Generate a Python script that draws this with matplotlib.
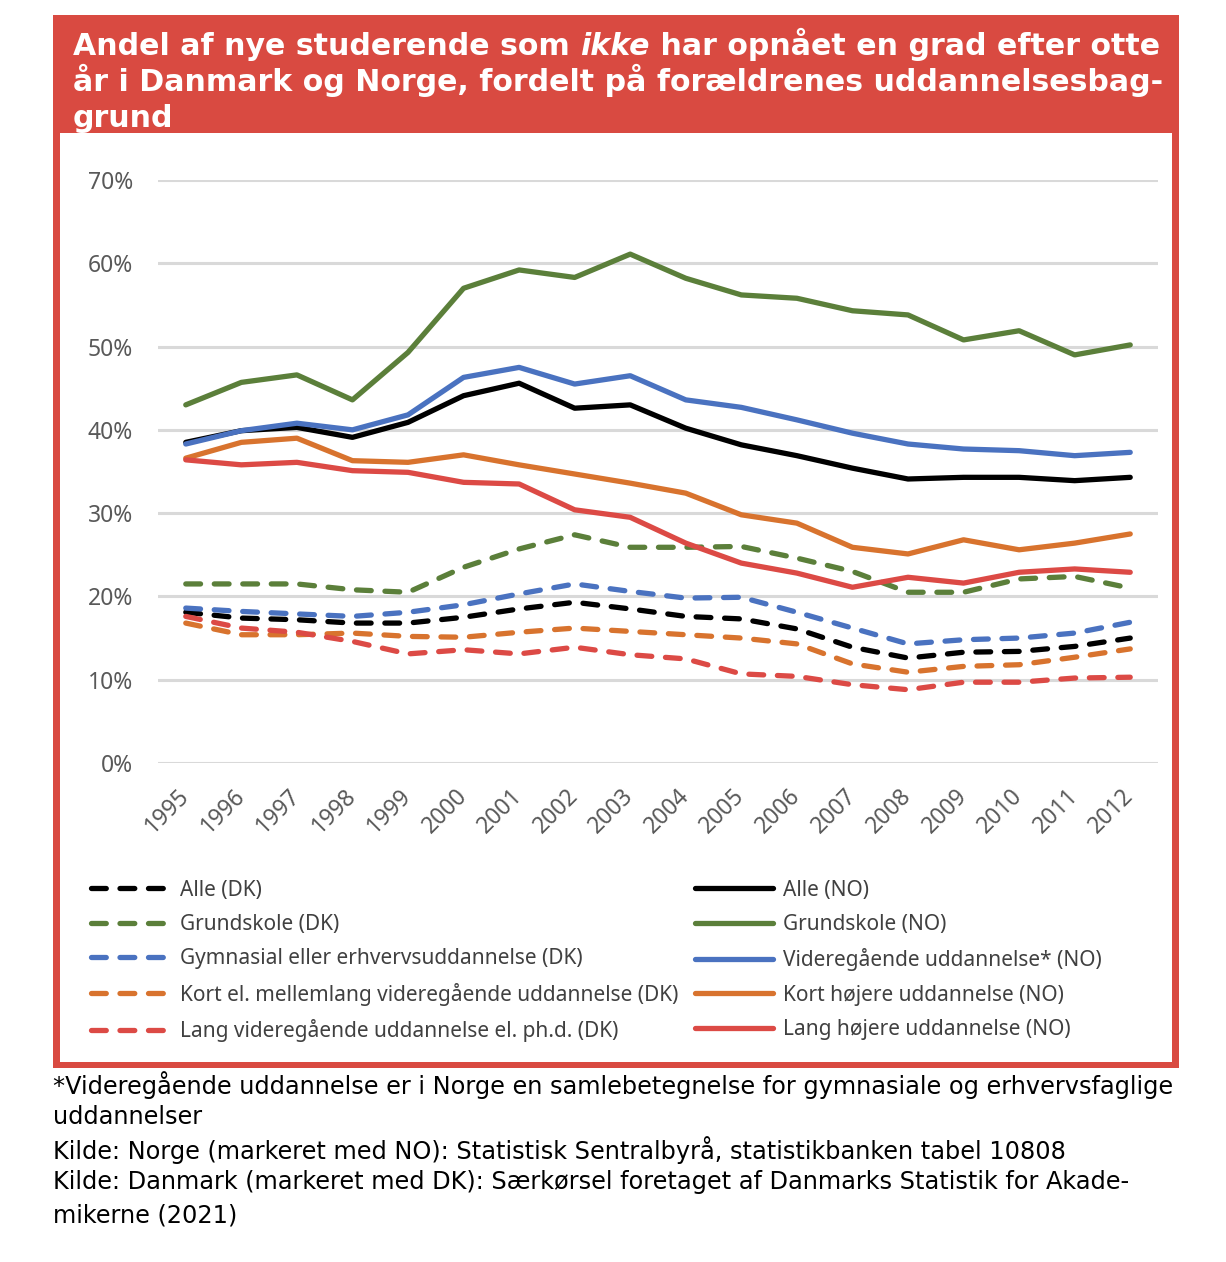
import matplotlib
matplotlib.use("Agg")
import matplotlib.pyplot as plt
from matplotlib.patches import Rectangle

years = [str(y) for y in range(1995, 2013)]

# Norway (solid)
alle_no = [38.5, 39.9, 40.3, 39.1, 40.9, 44.1, 45.6, 42.6, 43.0, 40.2, 38.2, 36.9, 35.4, 34.1, 34.3, 34.3, 33.9, 34.3]
grund_no = [43.0, 45.7, 46.6, 43.6, 49.3, 57.0, 59.2, 58.3, 61.1, 58.2, 56.2, 55.8, 54.3, 53.8, 50.8, 51.9, 49.0, 50.2]
vid_no = [38.3, 39.9, 40.8, 40.0, 41.8, 46.3, 47.5, 45.5, 46.5, 43.6, 42.7, 41.2, 39.6, 38.3, 37.7, 37.5, 36.9, 37.3]
kort_no = [36.6, 38.5, 39.0, 36.3, 36.1, 37.0, 35.8, 34.7, 33.6, 32.4, 29.8, 28.8, 25.9, 25.1, 26.8, 25.6, 26.4, 27.5]
lang_no = [36.4, 35.8, 36.1, 35.1, 34.9, 33.7, 33.5, 30.4, 29.5, 26.4, 24.0, 22.8, 21.1, 22.3, 21.6, 22.9, 23.3, 22.9]

# Denmark (dashed)
alle_dk = [18.1, 17.4, 17.2, 16.8, 16.8, 17.5, 18.5, 19.3, 18.5, 17.6, 17.3, 16.1, 13.9, 12.6, 13.3, 13.4, 14.0, 15.0]
grund_dk = [21.5, 21.5, 21.5, 20.8, 20.5, 23.5, 25.7, 27.4, 25.9, 25.9, 26.0, 24.6, 23.0, 20.5, 20.5, 22.1, 22.4, 21.0]
gym_dk = [18.6, 18.2, 17.9, 17.6, 18.1, 19.0, 20.3, 21.5, 20.6, 19.8, 19.9, 18.1, 16.2, 14.3, 14.8, 15.0, 15.6, 16.9]
kort_dk = [16.8, 15.4, 15.4, 15.6, 15.2, 15.1, 15.7, 16.2, 15.8, 15.4, 15.0, 14.3, 11.9, 10.9, 11.6, 11.8, 12.7, 13.7]
lang_dk = [17.6, 16.2, 15.7, 14.6, 13.1, 13.6, 13.1, 13.9, 13.0, 12.5, 10.7, 10.4, 9.4, 8.8, 9.7, 9.7, 10.2, 10.3]

labels_dk = ["Alle (DK)", "Grundskole (DK)", "Gymnasial eller erhvervsuddannelse (DK)",
             "Kort el. mellemlang videregående uddannelse (DK)",
             "Lang videregående uddannelse el. ph.d. (DK)"]
labels_no = ["Alle (NO)", "Grundskole (NO)", "Videregående uddannelse* (NO)",
             "Kort højere uddannelse (NO)", "Lang højere uddannelse (NO)"]
yticks = [0, 10, 20, 30, 40, 50, 60, 70]

title_parts = [("Andel af nye studerende som ", "normal"), ("ikke", "italic"),
               (" har opnået en grad efter otte", "normal")]
title_lines = ["år i Danmark og Norge, fordelt på forældrenes uddannelsesbag-", "grund"]
footnote = ["*Videregående uddannelse er i Norge en samlebetegnelse for gymnasiale og erhvervsfaglige",
            "uddannelser",
            "Kilde: Norge (markeret med NO): Statistisk Sentralbyrå, statistikbanken tabel 10808",
            "Kilde: Danmark (markeret med DK): Særkørsel foretaget af Danmarks Statistik for Akade-",
            "mikerne (2021)"]

colors = ["#000000", "#5B7F3A", "#4A72C0", "#D8732E", "#DC4A45"]
frame_col = "#D94A41"

W, H = 1226, 1262
fig = plt.figure(figsize=(W / 100, H / 100), dpi=100)

def fx(px):
    return px / W

def fy(py):
    return 1 - py / H

# frame
fig.patches.append(Rectangle((fx(53), fy(1068)), fx(1179 - 53), (1068 - 15) / H,
                             transform=fig.transFigure, facecolor=frame_col, edgecolor="none", zorder=-2))
fig.patches.append(Rectangle((fx(60), fy(1062)), fx(1172 - 60), (1062 - 133) / H,
                             transform=fig.transFigure, facecolor="white", edgecolor="none", zorder=-1))

ax = fig.add_axes([fx(158), fy(763), fx(1158 - 158), (763 - 180) / H])
ax.set_facecolor("none")
x = list(range(len(years)))
lw = 3.8
dash = (0, (2.8, 2.6))
series_dk = [alle_dk, grund_dk, gym_dk, kort_dk, lang_dk]
series_no = [alle_no, grund_no, vid_no, kort_no, lang_no]
h_dk, h_no = [], []
for s, c, lab in zip(series_dk, colors, labels_dk):
    h, = ax.plot(x, [v / 100 for v in s], color=c, lw=lw, linestyle=dash,
                 dash_capstyle="round", dash_joinstyle="round", label=lab, zorder=3)
    h_dk.append(h)
for s, c, lab in zip(series_no, colors, labels_no):
    h, = ax.plot(x, [v / 100 for v in s], color=c, lw=lw, solid_capstyle="round",
                 solid_joinstyle="round", label=lab, zorder=3)
    h_no.append(h)

ax.set_xlim(-0.5, 17.5)
ax.set_ylim(0, 0.70)
ax.set_yticks([v / 100 for v in yticks])
ax.set_yticklabels([f"{v}%" for v in yticks])
ax.yaxis.grid(True, color="#D9D9D9", lw=2.2)
ax.set_axisbelow(True)
for sp in ax.spines.values():
    sp.set_visible(False)
ax.tick_params(axis="both", length=0, colors="#595959", labelsize=16.5)
ax.tick_params(axis="y", pad=18)
ax.set_xticks(x)
ax.set_xticklabels(years, rotation=45, ha="right", va="center", rotation_mode="anchor")
ax.tick_params(axis="x", pad=21)
for t in ax.get_xticklabels() + ax.get_yticklabels():
    t.set_fontfamily("Noto Sans")

leg1 = fig.legend(handles=h_dk, loc="upper left", bbox_to_anchor=(fx(72), fy(861)),
                  ncol=1, frameon=False, handlelength=3.46, handletextpad=0.8,
                  labelspacing=0.64, prop={"family": "Noto Sans", "size": 15})
leg2 = fig.legend(handles=h_no, loc="upper left", bbox_to_anchor=(fx(676), fy(861)),
                  ncol=1, frameon=False, handlelength=3.75, handletextpad=0.5,
                  labelspacing=0.64, prop={"family": "Noto Sans", "size": 15})
for leg in (leg1, leg2):
    for t in leg.get_texts():
        t.set_color("#404040")

# title
renderer = fig.canvas.get_renderer()
xpos = fx(73)
tsize = 21.6
for txt, style in title_parts:
    t = fig.text(xpos, fy(55), txt, color="white", fontsize=tsize, fontweight="bold",
                 style=style, family="DejaVu Sans", va="baseline", ha="left")
    bb = t.get_window_extent(renderer)
    xpos = fx(bb.x1)
fig.text(fx(73), fy(91), title_lines[0], color="white", fontsize=tsize, fontweight="bold",
         family="DejaVu Sans", va="baseline", ha="left")
fig.text(fx(73), fy(127), title_lines[1], color="white", fontsize=tsize, fontweight="bold",
         family="DejaVu Sans", va="baseline", ha="left")

# footnote
for i, line in enumerate(footnote):
    fig.text(fx(53), fy(1085 + i * 32.5), line, color="black", fontsize=17.3,
             family="DejaVu Sans", va="center", ha="left")

fig.savefig("out.png", dpi=100)
